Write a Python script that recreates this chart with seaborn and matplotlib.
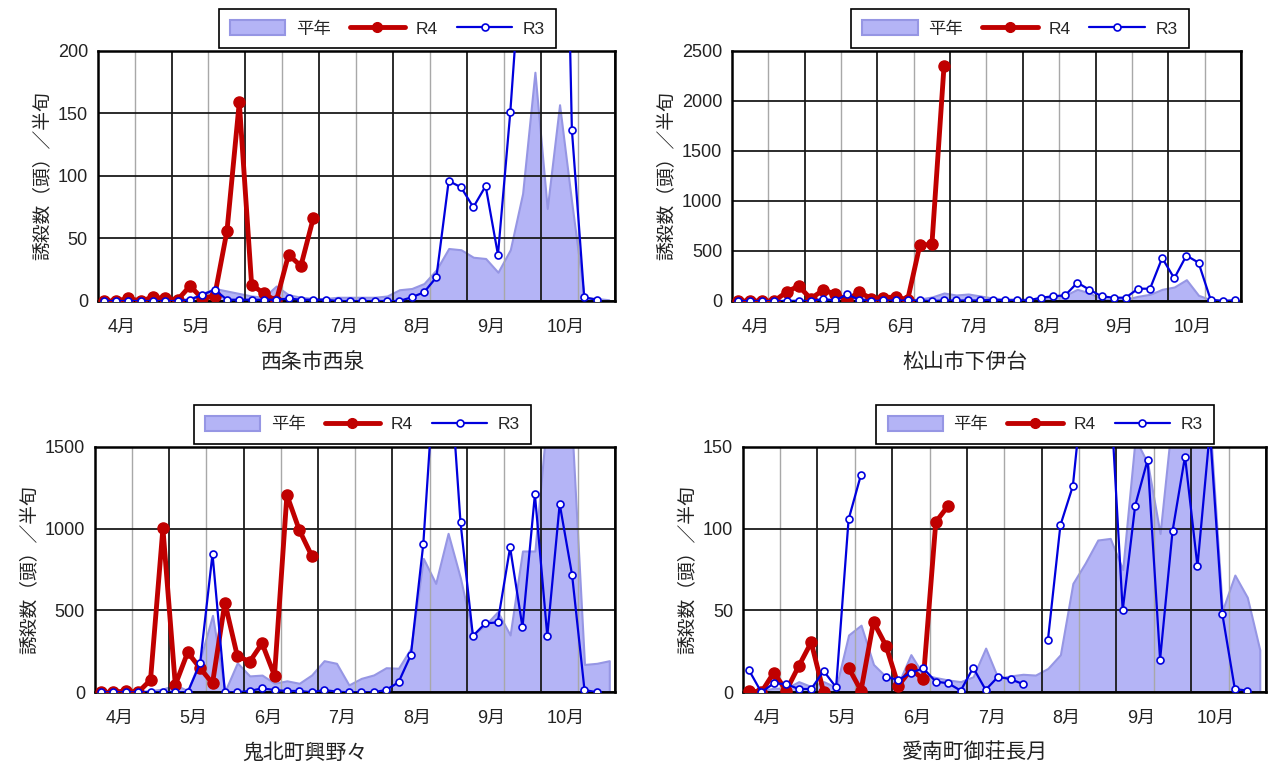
import numpy as np
import pandas as pd
import matplotlib
matplotlib.use('Agg')
import matplotlib.pyplot as plt
import seaborn as sns
from matplotlib.patches import Patch
from matplotlib.lines import Line2D

sns.set_style('white')
plt.rcParams['font.family'] = ['Liberation Sans', 'Noto Sans CJK JP', 'DejaVu Sans']

nan = np.nan

# labels
months = ['4月', '5月', '6月', '7月', '8月', '9月', '10月']
sites = ['西条市西泉', '松山市下伊台', '鬼北町興野々', '愛南町御荘長月']
ylabel = '誘殺数（頭）／半旬'

# 半旬 (5-day) counts, Apr-Oct = 42 periods
avg_saijo = [1, 1, 1, 1, 1, 1, 1, 2, 6, 10, 8, 6, 4, 3, 12, 5, 3, 2, 2, 3, 3,
             3, 3, 4, 9, 10, 14, 25, 42, 41, 35, 34, 23, 41, 86, 183, 74, 157, 78, 3, 2, 1]
r4_saijo = [0, 0, 2, 0, 3, 2, 1, 12, 2, 4, 56, 159, 13, 6, 0, 37, 28, 66]
r3_saijo = [0, 0, 0, 0, 0, 0, 0, 1, 5, 9, 1, 1, 1, 1, 1, 2, 1, 1, 1, 0, 0,
            0, 0, 0, 0, 3, 7, 19, 96, 91, 75, 92, 37, 151, 290, 450, 520, 600, 137, 3, 1, nan]

avg_matsuyama = [5, 5, 5, 5, 8, 10, 10, 15, 20, 25, 30, 20, 15, 10, 10, 20, 40, 80, 60, 70, 50,
                 30, 20, 20, 18, 23, 33, 57, 117, 80, 23, 17, 17, 47, 67, 117, 140, 213, 57, 13, 8, 8]
r4_matsuyama = [0, 0, 0, 0, 90, 150, 23, 107, 73, 10, 90, 23, 33, 40, 13, 557, 567, 2350]
r3_matsuyama = [0, 0, 0, 0, 0, 0, 0, 20, 5, 65, 13, 0, 5, 5, 5, 5, 0, 5, 5, 5, 5,
                13, 7, 7, 7, 33, 47, 57, 183, 113, 47, 33, 33, 123, 123, 430, 227, 454, 384, 13, 0, 7]

avg_kihoku = [5, 5, 5, 5, 10, 20, 45, 10, 200, 470, 5, 180, 100, 105, 55, 70, 55, 106, 193, 177, 45,
              85, 106, 150, 147, 269, 818, 665, 971, 696, 350, 411, 492, 350, 863, 863, 1700, 1900, 1600, 170, 177, 193]
r4_kihoku = [0, 0, 8, 0, 75, 1001, 45, 244, 147, 55, 547, 222, 187, 299, 102, 1205, 991, 834]
r3_kihoku = [0, 0, 0, 0, 0, 0, 0, 0, 177, 845, 0, 0, 8, 24, 14, 8, 8, 0, 14, 4, 0,
             0, 0, 14, 61, 228, 906, 2060, 2140, 1038, 344, 421, 427, 885, 397, 1209, 344, 1150, 716, 14, 0, nan]

avg_ainan = [0.5, 1, 2.5, 2.5, 6.5, 3.5, 6.5, 3, 35, 41, 17, 9.5, 5.5, 23, 10.6, 9, 7.5, 6.5, 9.5, 27, 8.5,
             10, 11, 10.5, 14.6, 23, 66.5, 79, 93, 94, 75, 155, 140, 97, 170, 180, 175, 165, 50, 71.6, 58, 26]
r4_ainan = [1, 0, 12, 1, 16, 30.5, 0, nan, 15, 1, 43, 28.5, 4, 14, 8, 104, 114]
r3_ainan = [13.6, 0, 5.5, 5, 2, 2, 13, 3, 105.6, 133, nan, 9.5, 7.5, 12, 14.6, 6.5, 5.5, 1, 15, 1.5, 9.5,
            8, 5, nan, 32, 102, 126, 201, 230, 185, 50, 114, 142, 20, 98.5, 144, 77, 160, 47.6, 2, 1, nan]

avgs = [avg_saijo, avg_matsuyama, avg_kihoku, avg_ainan]
r4s = [r4_saijo, r4_matsuyama, r4_kihoku, r4_ainan]
r3s = [r3_saijo, r3_matsuyama, r3_kihoku, r3_ainan]
ymaxs = [200, 2500, 1500, 150]
ysteps = [50, 500, 500, 50]

# layout (figure fractions) and label placement
rects = [[0.0767, 0.6096, 0.4064, 0.3243],
         [0.5750, 0.6096, 0.3998, 0.3243],
         [0.0744, 0.1021, 0.4091, 0.3185],
         [0.5834, 0.1021, 0.4111, 0.3185]]
leg_x = [0.56, 0.566, 0.514, 0.578]
site_x = [0.416, 0.458, 0.404, 0.444]

fill_c = '#b4b4f6'
fill_e = '#9696e4'
red = '#c00000'
blue = '#0000dd'

x = (np.arange(42) + 0.5) / 6


def draw_series(ax, vals, **kw):
    df = pd.DataFrame({'x': x[:len(vals)], 'y': vals})
    df['seg'] = df['y'].isna().cumsum()
    df = df.dropna()
    sns.lineplot(data=df, x='x', y='y', units='seg', estimator=None, sort=False,
                 ax=ax, legend=False, **kw)


fig = plt.figure(figsize=(12.73, 7.71), dpi=100)

for k in range(4):
    ax = fig.add_axes(rects[k])
    ax.fill_between(x, avgs[k], color=fill_c, edgecolor=fill_e, lw=1.5, zorder=0.3)
    draw_series(ax, r4s[k], color=red, linewidth=3.5, marker='o', markersize=8,
                markerfacecolor=red, markeredgecolor=red, markeredgewidth=1, zorder=3)
    draw_series(ax, r3s[k], color=blue, linewidth=1.6, marker='o', markersize=5,
                markerfacecolor='white', markeredgecolor=blue, markeredgewidth=1.2, zorder=4)

    ymax, step = ymaxs[k], ysteps[k]
    ax.set_xlim(0, 7)
    ax.set_ylim(0, ymax)
    ax.set_xticks(range(8))
    ax.set_xticks(np.arange(0.5, 7, 1), minor=True)
    ax.set_xticklabels([])
    ax.set_yticks(np.arange(0, ymax + 1, step))
    ax.set_yticks(np.arange(step / 2, ymax, step), minor=True)
    ax.set_axisbelow(True)
    ax.grid(True, which='major', color='#1a1a1a', lw=1.3)
    ax.grid(True, which='minor', axis='x', color='#a8a8a8', lw=1.0)
    ax.tick_params(axis='x', which='major', direction='out', length=4, width=1.3, color='black')
    ax.tick_params(axis='x', which='minor', length=0)
    ax.tick_params(axis='y', which='major', length=0, labelsize=13, pad=7, labelcolor='#222222')
    ax.tick_params(axis='y', which='minor', direction='in', length=4, width=1.3, color='black')
    for s in ax.spines.values():
        s.set_color('black')
        s.set_linewidth(1.8)

    ax.set_xlabel('')
    ax.set_ylabel(ylabel, fontsize=13.5, color='#222222')
    for m, lab in enumerate(months):
        ax.text(m + 0.33, -0.105, lab, transform=ax.get_xaxis_transform(),
                ha='center', va='center', fontsize=13, color='#222222')
    ax.text(site_x[k], -0.245, sites[k], transform=ax.transAxes,
            ha='center', va='center', fontsize=15, color='#222222')

    handles = [Patch(facecolor=fill_c, edgecolor=fill_e, lw=1.5, label='平年'),
               Line2D([], [], color=red, lw=3.5, marker='o', ms=7, label='R4'),
               Line2D([], [], color=blue, lw=1.6, marker='o', ms=5, mfc='white',
                      mec=blue, mew=1.2, label='R3')]
    leg = ax.legend(handles=handles, ncol=3, loc='lower center', bbox_to_anchor=(leg_x[k], 1.012),
                    borderaxespad=0, frameon=True, fancybox=False, edgecolor='black',
                    framealpha=1, fontsize=12.5, handlelength=3.2, handleheight=0.9,
                    handletextpad=0.6, columnspacing=1.1, borderpad=0.65)
    leg.get_frame().set_linewidth(1.2)

fig.savefig('out.png', dpi=100)
